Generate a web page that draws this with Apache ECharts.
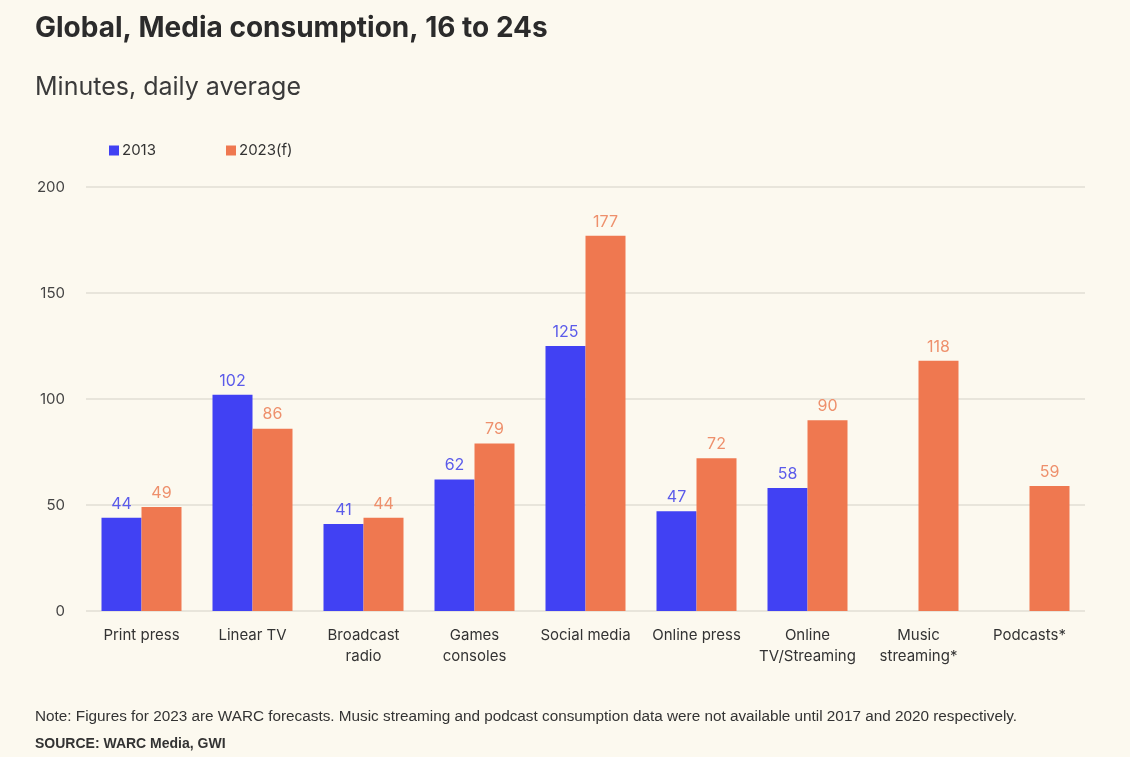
<!DOCTYPE html>
<html><head><meta charset="utf-8">
<script src="https://cdn.jsdelivr.net/npm/echarts@6/dist/echarts.min.js"></script>
<style>html,body{margin:0;padding:0;background:#FCF9EF;}#c{width:1130px;height:757px;}</style>
</head><body><div id="c"></div>
<script>
const categories = ['Print press','Linear TV','Broadcast\nradio','Games\nconsoles','Social media','Online press','Online\nTV/Streaming','Music\nstreaming*','Podcasts*'];
const values2013 = [44, 102, 41, 62, 125, 47, 58, null, null];
const values2023 = [49, 86, 44, 79, 177, 72, 90, 118, 59];
const yTicks = [0, 50, 100, 150, 200];
const seriesNames = ['2013', '2023(f)'];

const chart = echarts.init(document.getElementById('c'), null, {renderer:'canvas'});
const F = 'Inter, Roboto, "Noto Sans", sans-serif';
const N = '"Liberation Sans Narrow", "Liberation Sans", sans-serif';
chart.setOption({
  backgroundColor: '#FCF9EF',
  animation: false,
  title: [
    {text: 'Global, Media consumption, 16 to 24s', left: 35, top: 15, padding: 0,
     textStyle: {fontFamily: F, fontSize: 28, fontWeight: 'bold', color: '#2b2b2b'}},
    {text: 'Minutes, daily average', left: 35, top: 75, padding: 0,
     textStyle: {fontFamily: F, fontSize: 25, fontWeight: 'normal', color: '#3a3a3a'}},
    {text: 'Note: Figures for 2023 are WARC forecasts. Music streaming and podcast consumption data were not available until 2017 and 2020 respectively.',
     left: 35, top: 709, padding: 0, textStyle: {fontFamily: N, fontSize: 15.3, fontWeight: 'normal', color: '#333'}},
    {text: 'SOURCE: WARC Media, GWI', left: 35, top: 737, padding: 0,
     textStyle: {fontFamily: N, fontSize: 14, fontWeight: 'bold', color: '#333'}}
  ],
  legend: {
    left: 104, top: 138, itemWidth: 10, itemHeight: 10, itemGap: 70, icon: 'rect',
    textStyle: {fontFamily: F, fontSize: 15, color: '#333', padding: [0,0,0,-2]},
    data: seriesNames
  },
  grid: {left: 86, right: 45, top: 187, bottom: 146, containLabel: false},
  xAxis: {
    type: 'category', data: categories,
    axisLine: {show: false}, axisTick: {show: false},
    axisLabel: {fontFamily: F, fontSize: 15, color: '#333', margin: 14, lineHeight: 21, interval: 0}
  },
  yAxis: {
    type: 'value', min: 0, max: 200, interval: 50,
    axisLine: {show: false}, axisTick: {show: false},
    axisLabel: {fontFamily: F, fontSize: 15, color: '#444', margin: 21},
    splitLine: {lineStyle: {color: '#E8E5DB', width: 2}}
  },
  series: [
    {name: seriesNames[0], type: 'bar', data: values2013, barWidth: 40, barGap: '0%',
     itemStyle: {color: '#4141F3'},
     label: {show: true, position: 'top', distance: 6, fontFamily: F, fontSize: 16, color: '#5B5BEA'}},
    {name: seriesNames[1], type: 'bar', data: values2023, barWidth: 40, barGap: '0%',
     itemStyle: {color: '#EF7850'},
     label: {show: true, position: 'top', distance: 6, fontFamily: F, fontSize: 16, color: '#EE906C'}}
  ]
});
</script></body></html>
